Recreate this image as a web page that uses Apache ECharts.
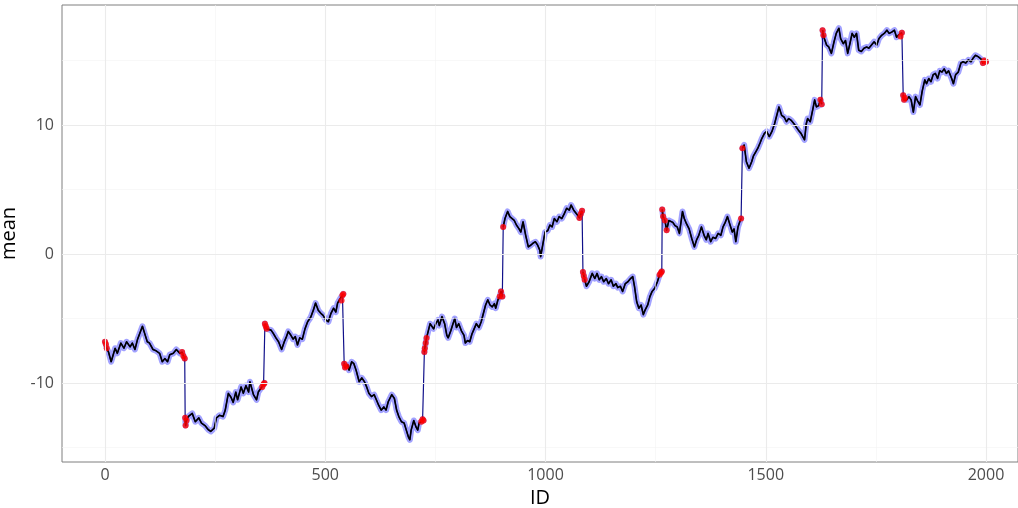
<!DOCTYPE html>
<html>
<head>
<meta charset="utf-8">
<script src="https://cdn.jsdelivr.net/npm/echarts@6/dist/echarts.min.js"></script>
<style>
  html, body { margin: 0; padding: 0; background: #ffffff; }
  #chart { width: 1018px; height: 508px; }
</style>
</head>
<body>
<div id="chart"></div>
<script>
// Observation index and running mean
const ids = [
  0, 2, 4, 8, 14, 23, 28, 36, 43, 49, 57, 62, 68, 74, 85, 90, 96, 101, 109, 116, 124, 130, 136, 142, 147, 155, 162, 170, 175, 178, 181,
  182, 183, 185, 189, 198, 205, 213, 219, 227, 234, 240, 248, 253, 260, 268, 273, 280, 286, 291, 297, 301, 309, 314, 320, 326, 329, 337, 344, 348, 354, 357, 360, 362,
  363, 365, 367, 377, 382, 388, 394, 401, 407, 412, 416, 422, 427, 432, 437, 442, 448, 454, 460, 467, 473, 478, 484, 490, 495, 501, 507, 513, 519, 524, 528, 534, 537, 539, 541,
  543, 545, 548, 551, 554, 560, 565, 570, 577, 583, 589, 594, 599, 605, 611, 616, 621, 627, 633, 638, 643, 651, 657, 662, 667, 673, 679, 684, 689, 692, 695, 701, 706, 710, 713, 718, 721, 723,
  725, 726, 728, 730, 738, 742, 746, 751, 756, 759, 765, 771, 776, 779, 785, 790, 794, 798, 803, 809, 815, 818, 823, 828, 833, 838, 843, 849, 854, 858, 864, 869, 874, 879, 884, 887, 892, 896, 899, 902,
  904, 908, 914, 919, 923, 929, 934, 940, 944, 949, 955, 961, 967, 972, 977, 982, 987, 989, 995, 999, 1005, 1010, 1015, 1020, 1026, 1031, 1037, 1043, 1048, 1054, 1058, 1064, 1067, 1073, 1077, 1080, 1083,
  1085, 1087, 1089, 1093, 1099, 1106, 1112, 1117, 1122, 1127, 1132, 1138, 1143, 1149, 1154, 1160, 1164, 1170, 1175, 1181, 1187, 1193, 1198, 1202, 1207, 1212, 1217, 1222, 1226, 1232, 1237, 1242, 1248, 1254, 1259, 1262, 1264,
  1265, 1267, 1271, 1275, 1280, 1284, 1289, 1294, 1299, 1304, 1311, 1315, 1320, 1326, 1332, 1338, 1343, 1348, 1354, 1360, 1365, 1369, 1375, 1380, 1386, 1392, 1398, 1403, 1408, 1413, 1418, 1424, 1428, 1432, 1437, 1441, 1444,
  1447, 1451, 1456, 1462, 1468, 1472, 1477, 1482, 1487, 1491, 1497, 1502, 1508, 1514, 1520, 1525, 1530, 1536, 1542, 1547, 1552, 1558, 1564, 1569, 1574, 1580, 1584, 1588, 1592, 1595, 1601, 1607, 1611, 1615, 1620, 1624, 1627,
  1629, 1631, 1633, 1638, 1643, 1649, 1655, 1660, 1666, 1670, 1676, 1681, 1686, 1691, 1696, 1701, 1706, 1711, 1717, 1723, 1729, 1734, 1740, 1746, 1752, 1757, 1763, 1769, 1775, 1780, 1786, 1792, 1797, 1802, 1806, 1809,
  1812, 1814, 1816, 1820, 1825, 1830, 1835, 1840, 1845, 1850, 1855, 1861, 1865, 1870, 1875, 1880, 1885, 1890, 1895, 1900, 1905, 1910, 1915, 1922, 1926, 1931, 1937, 1943, 1948, 1954, 1960, 1966, 1971, 1976, 1982, 1989, 1993, 1996, 2000
];
const means = [
  -6.8, -7.0, -7.3, -7.6, -8.35, -7.3, -7.7, -6.9, -7.3, -6.8, -7.2, -6.9, -7.4, -6.6, -5.6, -6.15, -6.8, -6.9, -7.4, -7.5, -7.7, -8.35, -8.1, -8.35, -7.8, -7.7, -7.4, -7.7, -7.6, -7.9, -8.1,
  -12.7, -13.3, -12.9, -12.6, -12.35, -13.0, -12.7, -13.1, -13.3, -13.6, -13.75, -13.5, -12.7, -12.5, -12.6, -12.1, -10.8, -11.1, -11.5, -10.7, -11.3, -10.3, -10.8, -10.2, -10.7, -9.9, -10.9, -11.3, -10.7, -10.4, -10.3, -10.1, -10.0,
  -5.4, -5.6, -5.8, -5.9, -6.15, -6.5, -6.8, -7.4, -6.8, -6.4, -6.0, -6.3, -6.6, -6.4, -7.05, -6.5, -6.6, -5.8, -5.25, -4.9, -4.35, -3.8, -4.35, -4.6, -4.75, -5.1, -5.25, -4.6, -4.2, -4.5, -3.8, -3.45, -3.6, -3.2, -3.1,
  -8.5, -8.8, -8.7, -8.6, -9.0, -8.35, -8.5, -9.0, -9.9, -9.6, -9.9, -10.3, -10.8, -11.05, -10.9, -11.3, -11.7, -12.1, -11.85, -12.1, -11.45, -10.9, -11.2, -12.1, -12.6, -13.0, -13.1, -13.65, -14.2, -14.4, -13.65, -12.9, -13.4, -13.65, -13.1, -13.0, -12.8, -12.9,
  -7.6, -7.3, -6.9, -6.5, -5.4, -5.25, -5.8, -5.4, -5.1, -5.55, -4.85, -5.4, -6.3, -6.5, -5.95, -5.4, -5.0, -5.7, -5.4, -5.95, -6.3, -6.9, -6.7, -6.8, -6.2, -5.8, -5.4, -5.7, -5.25, -5.4, -3.95, -3.55, -3.95, -4.1, -3.85, -4.2, -3.55, -3.3, -2.9, -3.3,
  2.1, 2.75, 3.3, 2.9, 2.75, 2.6, 2.25, 1.95, 1.7, 2.5, 1.45, 0.55, 0.7, 0.85, 0.95, 0.7, 0.3, -0.2, 0.95, 1.7, 1.8, 2.25, 2.1, 2.75, 2.5, 2.9, 2.75, 3.15, 3.55, 3.4, 3.8, 3.4, 3.55, 3.0, 2.8, 3.1, 3.35,
  -1.4, -1.7, -2.0, -2.5, -2.15, -1.5, -1.9, -1.5, -2.0, -1.75, -2.15, -1.9, -2.3, -2.0, -2.5, -2.3, -2.6, -2.5, -2.9, -2.3, -2.15, -1.9, -1.75, -2.5, -3.7, -4.2, -3.95, -4.7, -4.35, -3.95, -3.3, -2.9, -2.65, -2.15, -1.6, -1.45, -1.35,
  3.45, 2.9, 2.6, 1.85, 2.6, 2.45, 2.45, 2.2, 2.1, 1.6, 3.3, 2.75, 2.35, 1.95, 1.2, 0.55, 1.1, 1.45, 2.1, 1.45, 1.1, 1.6, 0.95, 1.3, 1.2, 1.6, 1.45, 2.1, 2.45, 2.9, 2.35, 1.7, 1.95, 0.95, 2.1, 2.5, 2.75,
  8.2, 8.45, 7.15, 6.65, 7.15, 7.6, 7.9, 8.2, 8.6, 8.95, 9.35, 9.5, 9.1, 9.5, 10.1, 10.75, 11.4, 10.75, 10.6, 10.25, 10.5, 10.35, 10.1, 9.85, 9.6, 9.35, 9.5, 8.85, 10.1, 10.5, 10.25, 11.25, 11.95, 11.4, 11.5, 11.95, 11.6,
  17.35, 16.95, 16.7, 16.2, 16.05, 15.55, 16.45, 17.1, 17.5, 16.7, 16.3, 16.55, 15.55, 16.3, 17.1, 16.8, 17.1, 15.8, 15.7, 15.95, 16.05, 15.95, 16.2, 16.45, 16.2, 16.7, 16.95, 17.1, 17.35, 17.1, 17.2, 17.35, 16.8, 17.0, 16.85, 17.15,
  12.3, 11.95, 12.1, 11.95, 12.2, 11.95, 11.0, 12.2, 11.85, 11.55, 12.6, 13.5, 13.2, 13.6, 13.35, 13.9, 14.0, 13.6, 14.2, 14.1, 14.35, 14.0, 14.2, 13.6, 13.2, 13.9, 14.1, 14.8, 14.9, 14.8, 15.05, 14.9, 15.2, 15.4, 15.3, 15.1, 14.8, 15.0, 14.9
];
// First ID of every segment between change points
const segmentStarts = [0, 182, 363, 543, 725, 904, 1085, 1265, 1447, 1629, 1812];
// Observations flagged around each change point
const flaggedIds = [
  0, 2, 4, 175, 178, 181, 182, 183, 185, 357, 360, 362, 363, 365, 367,
  537, 539, 541, 543, 545, 548, 718, 721, 723, 725, 726, 728, 730,
  896, 899, 902, 904, 1077, 1080, 1083, 1085, 1087, 1089,
  1259, 1262, 1264, 1265, 1267, 1271, 1275, 1444, 1447,
  1624, 1627, 1629, 1631, 1806, 1809, 1812, 1814, 1816, 1993, 1996, 2000
];
const xTicks = [0, 500, 1000, 1500, 2000];
const xMinorTicks = [250, 750, 1250, 1750];
const yTicks = [-10, 0, 10];
const yMinorTicks = [-15, -5, 5, 15];

// Per-segment path: a gap marker between segments stops the line at each jump
const segmentedData = [];
ids.forEach((id, i) => {
  if (i > 0 && segmentStarts.includes(id)) segmentedData.push([(ids[i - 1] + id) / 2, '-']);
  segmentedData.push([id, means[i]]);
});
const fullData = ids.map((id, i) => [id, means[i]]);
const flaggedData = flaggedIds.map(id => [id, means[ids.indexOf(id)]]);

const gridLines = [
  ...xMinorTicks.map(v => ({ xAxis: v, lineStyle: { color: '#f4f4f4', width: 0.6, type: 'solid' } })),
  ...yMinorTicks.map(v => ({ yAxis: v, lineStyle: { color: '#f4f4f4', width: 0.6, type: 'solid' } })),
  ...xTicks.map(v => ({ xAxis: v, lineStyle: { color: '#ebebeb', width: 1.1, type: 'solid' } })),
  ...yTicks.map(v => ({ yAxis: v, lineStyle: { color: '#ebebeb', width: 1.1, type: 'solid' } }))
];

const FONT = 'Open Sans, Noto Sans, sans-serif';
const chart = echarts.init(document.getElementById('chart'), null, { renderer: 'canvas' });
chart.setOption({
  animation: false,
  backgroundColor: '#ffffff',
  grid: {
    left: 62, right: 0, top: 5, bottom: 46,
    outerBoundsMode: 'none', containLabel: false,
    show: true, borderColor: '#7f7f7f', borderWidth: 1, backgroundColor: '#ffffff'
  },
  xAxis: {
    type: 'value', min: -97.6, max: 2072.6,
    name: 'ID', nameLocation: 'middle', nameGap: 24,
    nameTextStyle: { color: '#000000', fontSize: 20, fontFamily: FONT },
    axisLine: { show: false },
    axisTick: { show: true, customValues: xTicks, length: 4, lineStyle: { color: '#7f7f7f' } },
    axisLabel: { customValues: xTicks, formatter: v => String(v), color: '#4d4d4d', fontSize: 16, margin: 5, fontFamily: FONT },
    splitLine: { show: false }
  },
  yAxis: {
    type: 'value', min: -16.12, max: 19.3,
    name: 'mean', nameLocation: 'middle', nameGap: 39,
    nameTextStyle: { color: '#000000', fontSize: 20, fontFamily: FONT },
    axisLine: { show: false },
    axisTick: { show: true, customValues: yTicks, length: 4, lineStyle: { color: '#7f7f7f' } },
    axisLabel: { customValues: yTicks, formatter: v => String(v), color: '#4d4d4d', fontSize: 16, margin: 8, fontFamily: FONT },
    splitLine: { show: false }
  },
  series: [
    {
      // panel grid
      type: 'line', data: [[0, 0]], symbol: 'none', lineStyle: { opacity: 0 }, silent: true, z: 0,
      markLine: { silent: true, symbol: ['none', 'none'], label: { show: false }, data: gridLines, animation: false }
    },
    {
      // blue ribbon around the mean
      type: 'line', data: segmentedData, symbol: 'none', connectNulls: false, silent: true, z: 1,
      lineStyle: { color: 'rgba(85,85,255,0.55)', width: 6, cap: 'round', join: 'round' }
    },
    {
      // thin connecting path including the jumps
      type: 'line', data: fullData, symbol: 'none', silent: true, z: 2,
      lineStyle: { color: '#10108a', width: 1.2 }
    },
    {
      // mean within each segment
      type: 'line', data: segmentedData, symbol: 'none', connectNulls: false, silent: true, z: 3,
      lineStyle: { color: '#000000', width: 1.6, join: 'round' }
    },
    {
      type: 'scatter', data: flaggedData, symbol: 'circle', symbolSize: 6, silent: true, z: 4,
      itemStyle: { color: '#ff0000' }
    }
  ]
});
</script>
</body>
</html>
